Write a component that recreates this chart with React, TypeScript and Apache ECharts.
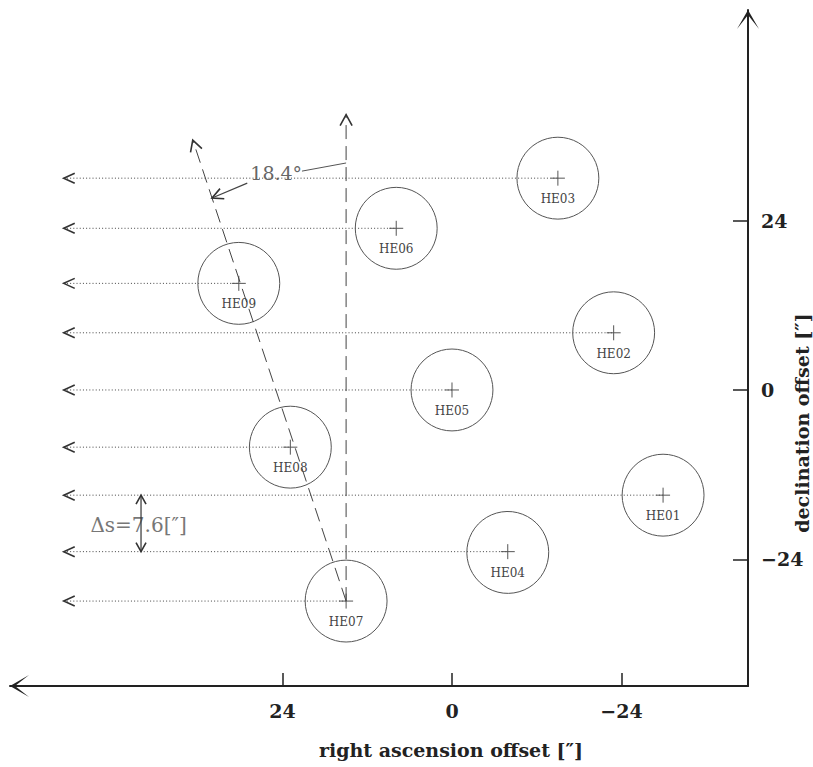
import React, { useEffect, useRef } from 'react';
import * as echarts from 'echarts';

// ---- data ----
const fiberNames = ['HE01', 'HE02', 'HE03', 'HE04', 'HE05', 'HE06', 'HE07', 'HE08', 'HE09'];
const raOffsets = [-29.9, -22.9, -15.0, -7.9, 0, 7.9, 15.0, 22.9, 30.2];
const decOffsets = [-14.9, 8.1, 30.0, -22.9, 0, 22.9, -29.9, -8.1, 15.1];
const fiberRadius = 5.8;
const tickValues = [-24, 0, 24];
const xRange = [-41.93, 62.61];
const yRange = [-41.93, 53.82];

// scan lines / guide lines
const scanLineEndRa = 55.0;
const pivotIndex = 6; // HE07
const rotationDeg = 18.4;
const verticalTipDec = 39.0;
const tiltedTipDec = 35.4;

// annotations
const angleLabel = '18.4°';
const angleLeaderStart = [15.0, 32.15];
const angleLeaderEnd = [21.25, 31.0];
const angleLabelPos = [24.9, 30.7];
const angleArrowStart = [29.0, 29.3];
const angleArrowTipDec = 27.2;
const stepLabel = 'Δs=7.6[″]';
const stepLabelPos = [44.4, -19.1];
const stepArrowRa = 44.05;
const stepRowA = 0; // HE01 row
const stepRowB = 3; // HE04 row

const axisArrow = 'path://M11,0 L22,19 L11,5 L0,19 Z';
const serif = '"DejaVu Serif", "Liberation Serif", serif';

function chevron(tip: number[], from: number[], len: number, half: number) {
  const dx = from[0] - tip[0];
  const dy = from[1] - tip[1];
  const d = Math.hypot(dx, dy) || 1;
  const ux = dx / d;
  const uy = dy / d;
  const bx = tip[0] + ux * len;
  const by = tip[1] + uy * len;
  return [
    [bx - uy * half, by + ux * half],
    [tip[0], tip[1]],
    [bx + uy * half, by - ux * half],
  ];
}

const fmt = (v: number) => (v < 0 ? '−' + Math.abs(v) : String(v));

export default function App() {
  const ref = useRef<HTMLDivElement>(null);

  useEffect(() => {
    if (!ref.current) return;
    const chart = echarts.init(ref.current, null, { renderer: 'svg' });

    const fiberData = raOffsets.map((ra, i) => [ra, decOffsets[i]]);
    const pivot = [raOffsets[pivotIndex], decOffsets[pivotIndex]];
    const tan = Math.tan((rotationDeg * Math.PI) / 180);
    const tiltedTip = [pivot[0] + (tiltedTipDec - pivot[1]) * tan, tiltedTipDec];
    const angleArrowTip = [pivot[0] + (angleArrowTipDec - pivot[1]) * tan, angleArrowTipDec];

    const tickFont = {
      fontFamily: serif,
      fontWeight: 'bold' as const,
      fontSize: 19,
      color: '#222',
    };
    const titleFont = {
      fontFamily: serif,
      fontWeight: 'bold' as const,
      fontSize: 19,
      color: '#222',
    };

    const option: any = {
      animation: false,
      backgroundColor: '#ffffff',
      grid: {
        left: 10,
        right: 65,
        top: 10,
        bottom: 81,
        containLabel: false,
        outerBoundsMode: 'none',
      },
      xAxis: {
        type: 'value',
        inverse: true,
        min: xRange[0],
        max: xRange[1],
        position: 'bottom',
        splitLine: { show: false },
        axisLine: {
          show: true,
          onZero: false,
          symbol: [axisArrow, 'none'],
          symbolSize: [22, 19],
          symbolOffset: [9.5, 0],
          lineStyle: { color: '#222', width: 2 },
        },
        axisTick: {
          show: true,
          inside: true,
          length: 13,
          customValues: tickValues,
          lineStyle: { color: '#222', width: 1.5 },
        },
        axisLabel: {
          show: true,
          customValues: tickValues,
          margin: 15,
          formatter: fmt,
          ...tickFont,
        },
        name: 'right ascension offset [″]',
        nameLocation: 'middle',
        nameGap: 54,
        nameMoveOverlap: false,
        nameTextStyle: { ...titleFont, padding: [0, 0, 0, 144] },
      },
      yAxis: {
        type: 'value',
        min: yRange[0],
        max: yRange[1],
        position: 'right',
        splitLine: { show: false },
        axisLine: {
          show: true,
          onZero: false,
          symbol: ['none', axisArrow],
          symbolSize: [22, 19],
          symbolOffset: [0, -9.5],
          lineStyle: { color: '#222', width: 2 },
        },
        axisTick: {
          show: true,
          inside: true,
          length: 15,
          customValues: tickValues,
          lineStyle: { color: '#222', width: 1.5 },
        },
        axisLabel: {
          show: true,
          customValues: tickValues,
          margin: 13,
          formatter: fmt,
          ...tickFont,
        },
        name: 'declination offset [″]',
        nameLocation: 'middle',
        nameRotate: 90,
        nameGap: 44,
        nameMoveOverlap: false,
        nameTextStyle: { ...titleFont, padding: [0, 150, 0, 0] },
      },
      series: [
        {
          type: 'custom',
          name: 'scan lines',
          coordinateSystem: 'cartesian2d',
          clip: false,
          silent: true,
          data: fiberData,
          renderItem: (params: any, api: any) => {
            const dec = api.value(1);
            const c = api.coord([api.value(0), dec]);
            const tip = api.coord([scanLineEndRa, dec]);
            return {
              type: 'group',
              children: [
                {
                  type: 'line',
                  shape: { x1: tip[0], y1: tip[1], x2: c[0], y2: c[1] },
                  style: { stroke: '#444', lineWidth: 1, lineDash: [1, 2.2] },
                },
                {
                  type: 'polyline',
                  shape: { points: chevron(tip, c, 11, 5) },
                  style: { stroke: '#333', lineWidth: 1.6, fill: 'none' },
                },
              ],
            };
          },
        },
        {
          type: 'custom',
          name: 'fibers',
          coordinateSystem: 'cartesian2d',
          clip: false,
          silent: true,
          data: fiberData,
          renderItem: (params: any, api: any) => {
            const c = api.coord([api.value(0), api.value(1)]);
            const r = api.size([fiberRadius, 0])[0];
            return {
              type: 'group',
              children: [
                {
                  type: 'circle',
                  shape: { cx: c[0], cy: c[1], r },
                  style: { fill: 'none', stroke: '#555', lineWidth: 1 },
                },
                {
                  type: 'line',
                  shape: { x1: c[0] - 7, y1: c[1], x2: c[0] + 7, y2: c[1] },
                  style: { stroke: '#555', lineWidth: 1 },
                },
                {
                  type: 'line',
                  shape: { x1: c[0], y1: c[1] - 7.5, x2: c[0], y2: c[1] + 7.5 },
                  style: { stroke: '#555', lineWidth: 1 },
                },
                {
                  type: 'text',
                  x: c[0],
                  y: c[1] + 21,
                  style: {
                    text: fiberNames[params.dataIndex],
                    fill: '#444',
                    fontFamily: serif,
                    fontSize: 12,
                    align: 'center',
                    verticalAlign: 'middle',
                  },
                },
              ],
            };
          },
        },
        {
          type: 'custom',
          name: 'guides',
          coordinateSystem: 'cartesian2d',
          clip: false,
          silent: true,
          data: [pivot],
          renderItem: (params: any, api: any) => {
            const p = api.coord(pivot);
            const vTip = api.coord([pivot[0], verticalTipDec]);
            const tTip = api.coord(tiltedTip);
            const dash = { stroke: '#444', lineWidth: 1, lineDash: [14, 7] };
            const head = { stroke: '#333', lineWidth: 1.6, fill: 'none' };
            const ls = api.coord(angleLeaderStart);
            const le = api.coord(angleLeaderEnd);
            const lp = api.coord(angleLabelPos);
            const as = api.coord(angleArrowStart);
            const at = api.coord(angleArrowTip);
            const sp = api.coord(stepLabelPos);
            const sa = api.coord([stepArrowRa, decOffsets[stepRowA]]);
            const sb = api.coord([stepArrowRa, decOffsets[stepRowB]]);
            return {
              type: 'group',
              children: [
                { type: 'line', shape: { x1: p[0], y1: p[1], x2: vTip[0], y2: vTip[1] }, style: dash },
                { type: 'polyline', shape: { points: chevron(vTip, p, 11, 6) }, style: head },
                { type: 'line', shape: { x1: p[0], y1: p[1], x2: tTip[0], y2: tTip[1] }, style: dash },
                { type: 'polyline', shape: { points: chevron(tTip, p, 11, 6) }, style: head },
                // angle annotation
                { type: 'line', shape: { x1: ls[0], y1: ls[1], x2: le[0], y2: le[1] }, style: { stroke: '#555', lineWidth: 1 } },
                {
                  type: 'text',
                  x: lp[0],
                  y: lp[1],
                  style: {
                    text: angleLabel,
                    fill: '#666',
                    fontFamily: serif,
                    fontSize: 19,
                    align: 'center',
                    verticalAlign: 'middle',
                  },
                },
                { type: 'line', shape: { x1: as[0], y1: as[1], x2: at[0], y2: at[1] }, style: { stroke: '#444', lineWidth: 1.2 } },
                { type: 'polyline', shape: { points: chevron(at, as, 11, 5.5) }, style: head },
                // step annotation
                {
                  type: 'text',
                  x: sp[0],
                  y: sp[1],
                  style: {
                    text: stepLabel,
                    fill: '#777',
                    fontFamily: serif,
                    fontSize: 20,
                    align: 'center',
                    verticalAlign: 'middle',
                  },
                },
                { type: 'line', shape: { x1: sa[0], y1: sa[1], x2: sb[0], y2: sb[1] }, style: { stroke: '#333', lineWidth: 1.2 } },
                { type: 'polyline', shape: { points: chevron(sa, sb, 9, 5) }, style: head },
                { type: 'polyline', shape: { points: chevron(sb, sa, 9, 5) }, style: head },
              ],
            };
          },
        },
      ],
    };

    chart.setOption(option);
    return () => chart.dispose();
  }, []);

  return (
    <div
      ref={ref}
      style={{ position: 'absolute', left: 0, top: 0, width: 813, height: 767, background: '#fff' }}
    />
  );
}
